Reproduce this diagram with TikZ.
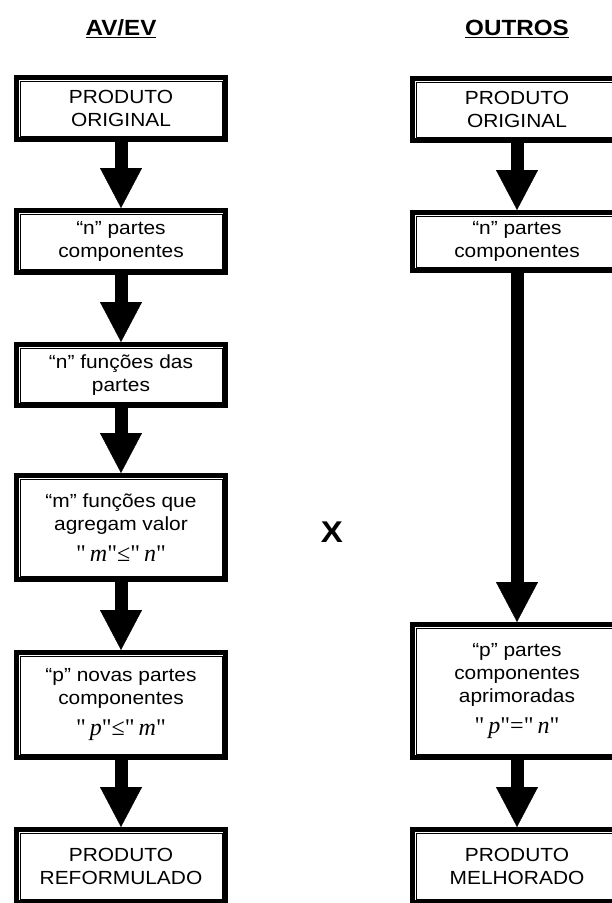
\documentclass[tikz,border=0pt]{standalone}
\usepackage{fontspec}
\setmainfont[FakeStretch=1.1]{Liberation Sans}
\newfontfamily\eqfont{Liberation Serif}
\usetikzlibrary{arrows.meta}
\newcommand{\eqline}[3]{{\eqfont\fontsize{24}{26}\selectfont"\,\textit{#1}"#2"\,\textit{#3}"}}
\begin{document}
\begin{tikzpicture}[x=1pt,y=-1pt,
  box/.style={draw,line width=5pt,minimum width=209pt,align=center,inner sep=0pt,
    font=\fontsize{19}{23}\selectfont},
  innerline/.style={line width=0.8pt},
  flow/.style={line width=13pt,-{Triangle[length=40pt,width=42pt,line width=0.4pt]}},
  heading/.style={font=\fontsize{22}{26}\selectfont\bfseries}]
\useasboundingbox (0,0) rectangle (612,903);
% titles
\node[heading] (tl) at (121,29) {\underline{AV/EV}};
\node[heading] (tr) at (517,29) {\underline{OUTROS}};
\node[font=\fontsize{30}{32}\selectfont\bfseries] (vs) at (332,532) {X};
% AV/EV column
\node[box,minimum height=62pt] (l1) at (121,108.5) {PRODUTO\\ORIGINAL};
\node[box,minimum height=62pt] (l2) at (121,241.5) {“n” partes\\componentes};
\node[box,minimum height=61pt] (l3) at (121,375) {“n” funções das\\partes};
\node[box,minimum height=104pt] (l4) at (121,527.5) {“m” funções que\\agregam valor\\[8pt]\eqline{m}{≤}{n}};
\node[box,minimum height=105pt] (l5) at (121,705) {“p” novas partes\\componentes\\[8pt]\eqline{p}{≤}{m}};
\node[box,minimum height=73pt] (l6) at (121,866) {PRODUTO\\REFORMULADO};
% OUTROS column
\node[box,minimum height=62pt] (r1) at (517,109.5) {PRODUTO\\ORIGINAL};
\node[box,minimum height=58pt] (r2) at (517,241.5) {“n” partes\\componentes};
\node[box,minimum height=133pt] (r3) at (517,691) {“p” partes\\componentes\\aprimoradas\\[8pt]\eqline{p}{=}{n}};
\node[box,minimum height=73pt] (r4) at (517,866) {PRODUTO\\MELHORADO};
\foreach \b in {l1,l2,l3,l4,l5,l6,r1,r2,r3,r4}
  \draw[innerline] ([shift={(6pt,-6pt)}]\b.north west) rectangle ([shift={(-6pt,6pt)}]\b.south east);
% arrows
\draw[flow] (l1) -- (l2);
\draw[flow] (l2) -- (l3);
\draw[flow] (l3) -- (l4);
\draw[flow] (l4) -- (l5);
\draw[flow] (l5) -- (l6);
\draw[flow] (r1) -- (r2);
\draw[flow] (r2) -- (r3);
\draw[flow] (r3) -- (r4);
\end{tikzpicture}
\end{document}
